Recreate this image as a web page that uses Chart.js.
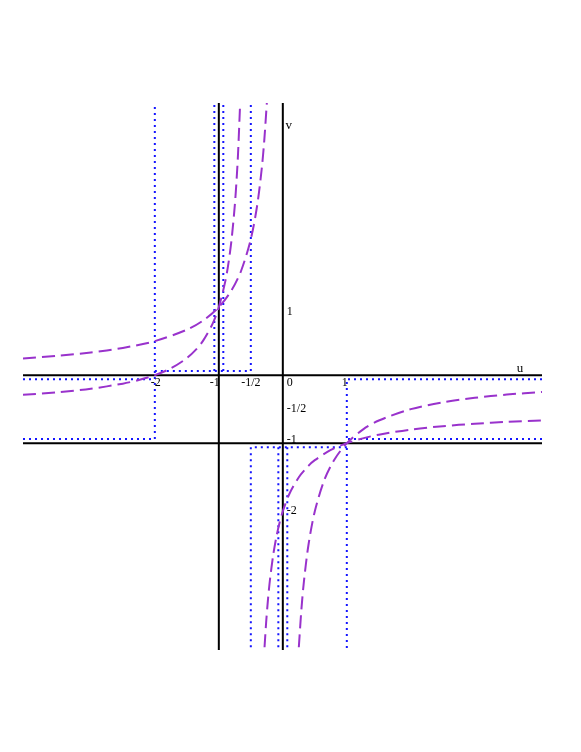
<!DOCTYPE html>
<html><head><meta charset="utf-8">
<script src="https://cdn.jsdelivr.net/npm/chart.js@4/dist/chart.umd.min.js"></script>
<style>html,body{margin:0;padding:0;background:#fff}canvas{display:block}</style>
</head><body>
<canvas id="c" width="581" height="752"></canvas>
<script>
// axis ranges
const uRange = [-4.06, 4.05];
const vRange = [-4.04, 4.0];
// tick labels
const uTickValues = [-2, -1, -0.5, 0, 1];
const uTickLabels = ['-2', '-1', '-1/2', '0', '1'];
const vTickValues = [1, -0.5, -1, -2];
const vTickLabels = ['1', '-1/2', '-1', '-2'];
const axisNames = ['u', 'v'];

// solid black lines (axes u=0, v=0 and lines u=-1, v=-1); null = break
const solidU = [-4.06, 4.05, null, 0, 0, null, -1, -1, null, -4.06, 4.05];
const solidV = [0, 0, null, -4.04, 4.0, null, -4.04, 4.0, null, -1, -1];

// blue dotted boundary lines; null = break
const dotU = [-4.06, -2, -2, null, -4.06, -2, null, -2, -0.5, null, -1.07, -1.07, null, -0.93, -0.93, null, -0.5, -0.5, null,
              4.05, 1, 1, null, 4.05, 1, null, 1, -0.5, null, 0.07, 0.07, null, -0.07, -0.07, null, -0.5, -0.5];
const dotV = [-0.94, -0.94, 4.0, null, -0.06, -0.06, null, 0.06, 0.06, null, 0.06, 4.0, null, 0.06, 4.0, null, 0.06, 4.0, null,
              -0.06, -0.06, -4.04, null, -0.94, -0.94, null, -1.06, -1.06, null, -1.06, -4.04, null, -1.06, -4.04, null, -1.06, -4.04];

// curve A (two branches)
const curveALeftU = [-4.06, -3.5, -3, -2.5, -2.25, -2, -1.75, -1.5, -1.35, -1.25, -1.1, -1, -0.9, -0.85, -0.8, -0.75, -0.72, -0.7, -0.6667];
const curveALeftV = [-0.289, -0.25, -0.2, -0.125, -0.071, 0, 0.1, 0.25, 0.382, 0.5, 0.75, 1, 1.375, 1.643, 2, 2.5, 2.909, 3.25, 4.0];
const curveARightU = [-0.2857, -0.26, -0.23, -0.2, -0.15, -0.1, -0.05, 0, 0.1, 0.25, 0.4, 0.5, 0.75, 1, 1.25, 1.5, 2, 2.5, 3, 3.5, 4.05];
const curveARightV = [-4.0, -3.625, -3.278, -3, -2.643, -2.375, -2.167, -2, -1.75, -1.5, -1.333, -1.25, -1.1, -1, -0.929, -0.875, -0.8, -0.75, -0.714, -0.6875, -0.665];
// curve B (two branches)
const curveBLeftU = [-4.06, -3.5, -3, -2.5, -2, -1.5, -1.25, -1, -0.8, -0.65, -0.5, -0.4, -0.33, -0.29, -0.25];
const curveBLeftV = [0.246, 0.286, 0.333, 0.4, 0.5, 0.667, 0.8, 1, 1.25, 1.538, 2, 2.5, 3.03, 3.448, 4.0];
const curveBRightU = [0.25, 0.29, 0.33, 0.4, 0.5, 0.65, 0.8, 1, 1.25, 1.5, 2, 2.5, 3, 3.5, 4.05];
const curveBRightV = [-4.0, -3.448, -3.03, -2.5, -2, -1.538, -1.25, -1, -0.8, -0.667, -0.5, -0.4, -0.333, -0.286, -0.247];

function pts(us, vs) { return us.map((u, i) => ({ x: u, y: vs[i] })); }

const PURPLE = '#9932CC';
const BLUE = '#1515ff';

function lineDs(data, color, width, dash, order, tension) {
  return { data, borderColor: color, borderWidth: width, borderDash: dash, showLine: true,
           pointRadius: 0, pointHoverRadius: 0, fill: false, spanGaps: false, order, tension: tension || 0,
           borderCapStyle: 'butt' };
}

const labelPlugin = {
  id: 'labels',
  afterDraw(chart) {
    const ctx = chart.ctx, xs = chart.scales.x, ys = chart.scales.y;
    const x0 = xs.getPixelForValue(0), y0 = ys.getPixelForValue(0);
    ctx.save();
    ctx.fillStyle = '#000';
    ctx.font = '12px "Liberation Serif", "DejaVu Serif", serif';
    ctx.textBaseline = 'top';
    const xOff = { '-2': 1, '-1': -4, '-1/2': 0, '0': 7, '1': -2 };
    uTickValues.forEach((v, i) => {
      ctx.textAlign = 'center';
      ctx.fillText(uTickLabels[i], xs.getPixelForValue(v) + (xOff[uTickLabels[i]] || 0), y0 + 2);
    });
    ctx.textBaseline = 'middle';
    ctx.textAlign = 'left';
    const yOff = { '1': 5, '-1/2': 0, '-1': -3, '-2': 0 };
    vTickValues.forEach((v, i) => {
      ctx.fillText(vTickLabels[i], x0 + 4, ys.getPixelForValue(v) + (yOff[vTickLabels[i]] || 0));
    });
    ctx.font = '13px "Liberation Serif", "DejaVu Serif", serif';
    ctx.textAlign = 'center';
    ctx.textBaseline = 'alphabetic';
    ctx.fillText(axisNames[0], chart.chartArea.right - 22, y0 - 3);
    ctx.fillText(axisNames[1], x0 + 6, chart.chartArea.top + 26);
    ctx.restore();
  }
};

new Chart(document.getElementById('c'), {
  type: 'scatter',
  data: {
    datasets: [
      lineDs(pts(solidU, solidV), '#000', 2, [], 3),
      lineDs(pts(dotU, dotV), BLUE, 2, [2, 4], 2),
      lineDs(pts(curveALeftU, curveALeftV), PURPLE, 2, [13, 6], 1, 0.3),
      lineDs(pts(curveARightU, curveARightV), PURPLE, 2, [13, 6], 1, 0.3),
      lineDs(pts(curveBLeftU, curveBLeftV), PURPLE, 2, [13, 6], 1, 0.3),
      lineDs(pts(curveBRightU, curveBRightV), PURPLE, 2, [13, 6], 1, 0.3)
    ]
  },
  options: {
    responsive: false,
    animation: false,
    devicePixelRatio: 1,
    layout: { padding: { left: 23, right: 39, top: 103, bottom: 102 } },
    plugins: { legend: { display: false }, tooltip: { enabled: false } },
    events: [],
    scales: {
      x: { type: 'linear', min: uRange[0], max: uRange[1], display: false },
      y: { type: 'linear', min: vRange[0], max: vRange[1], display: false }
    }
  },
  plugins: [labelPlugin]
});
</script>
</body></html>
